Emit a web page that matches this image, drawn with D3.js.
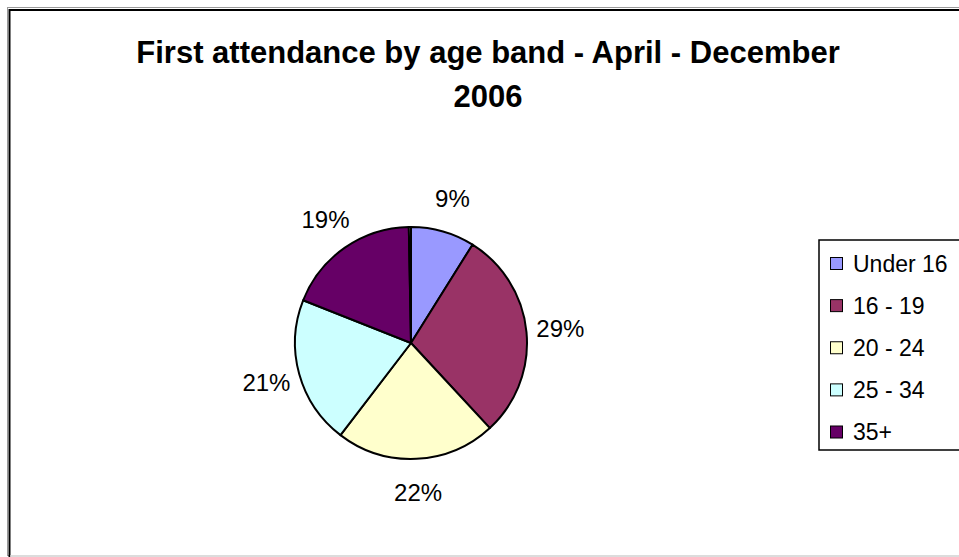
<!DOCTYPE html>
<html>
<head>
<meta charset="utf-8">
<script src="https://cdn.jsdelivr.net/npm/d3@7"></script>
<style>
  body { margin: 0; background: #fff; }
  svg { display: block; font-family: Arial, "Liberation Sans", sans-serif; }
</style>
</head>
<body>
<svg id="chart" width="959" height="557"></svg>
<script>
// age bands and share of first attendances (percent)
let categories = ["Under 16", "16 - 19", "20 - 24", "25 - 34", "35+"];
let shares = [8.9, 29.2, 22.3, 20.6, 18.7];
let labels = ["9%", "29%", "22%", "21%", "19%"];
// tiny unlabelled remainder that shows as a sliver at 12 o'clock
let remainder = 0.3;
let colors = ["#9999ff", "#993366", "#ffffcc", "#ccffff", "#660066"];
let titleLines = ["First attendance by age band - April - December", "2006"];

function drawChart() {
    let svg = d3.select("#chart");

    // chart frame (cut off on the right like the original)
    svg.append("rect")
        .attr("x", 7.5).attr("y", 7.5)
        .attr("width", 1000).attr("height", 548)
        .attr("fill", "none")
        .attr("stroke", "#999")
        .attr("stroke-width", 1);
    svg.append("rect")
        .attr("x", 9.5).attr("y", 10)
        .attr("width", 1000).attr("height", 560)
        .attr("fill", "#fff")
        .attr("stroke", "#000")
        .attr("stroke-width", 2);
    svg.append("line")
        .attr("x1", 10).attr("x2", 959)
        .attr("y1", 556).attr("y2", 556)
        .attr("stroke", "#d0d0d0")
        .attr("stroke-width", 1.5);

    // title
    svg.append("text")
        .attr("x", 488)
        .attr("y", 63)
        .attr("text-anchor", "middle")
        .attr("font-size", 31)
        .attr("font-weight", "bold")
        .selectAll("tspan")
        .data(titleLines)
        .enter().append("tspan")
        .attr("x", 488)
        .attr("dy", (d, i) => i === 0 ? 0 : 44)
        .text(d => d);

    drawPie(svg);
    drawLegend(svg);
}

function drawPie(svg) {
    let cx = 411, cy = 343, r = 116;
    let values = shares.concat([remainder]);
    let pie = d3.pie().sort(null).value(d => d);
    let arcs = pie(values);
    let arc = d3.arc().innerRadius(0).outerRadius(r);
    let labelArc = d3.arc().innerRadius(150).outerRadius(150);

    let g = svg.append("g").attr("transform", "translate(" + cx + "," + cy + ")");
    g.selectAll("path").data(arcs)
        .enter().append("path")
        .attr("d", arc)
        .attr("fill", (d, i) => i < colors.length ? colors[i] : "#fff")
        .attr("stroke", "#000")
        .attr("stroke-width", 2)
        .attr("stroke-linejoin", "round");

    g.selectAll("text").data(arcs.slice(0, labels.length))
        .enter().append("text")
        .attr("transform", d => "translate(" + labelArc.centroid(d) + ")")
        .attr("text-anchor", "middle")
        .attr("dy", "0.35em")
        .attr("font-size", 24)
        .attr("fill", "#000")
        .text((d, i) => labels[i]);
}

function drawLegend(svg) {
    let x0 = 819, y0 = 240, h = 210;
    svg.append("rect")
        .attr("x", x0).attr("y", y0)
        .attr("width", 200).attr("height", h)
        .attr("fill", "#fff")
        .attr("stroke", "#000")
        .attr("stroke-width", 1.5);

    let y = d3.scalePoint().domain(categories).range([263.5, 432]);
    let items = svg.selectAll("g.legend-item").data(categories)
        .enter().append("g")
        .attr("class", "legend-item")
        .attr("transform", d => "translate(0," + y(d) + ")");
    items.append("rect")
        .attr("x", 830.5).attr("y", -6)
        .attr("width", 12).attr("height", 12)
        .attr("fill", (d, i) => colors[i])
        .attr("stroke", "#000")
        .attr("stroke-width", 1);
    items.append("text")
        .attr("x", 853)
        .attr("dy", "0.36em")
        .attr("font-size", 23)
        .text(d => d);
}

drawChart();
</script>
</body>
</html>
